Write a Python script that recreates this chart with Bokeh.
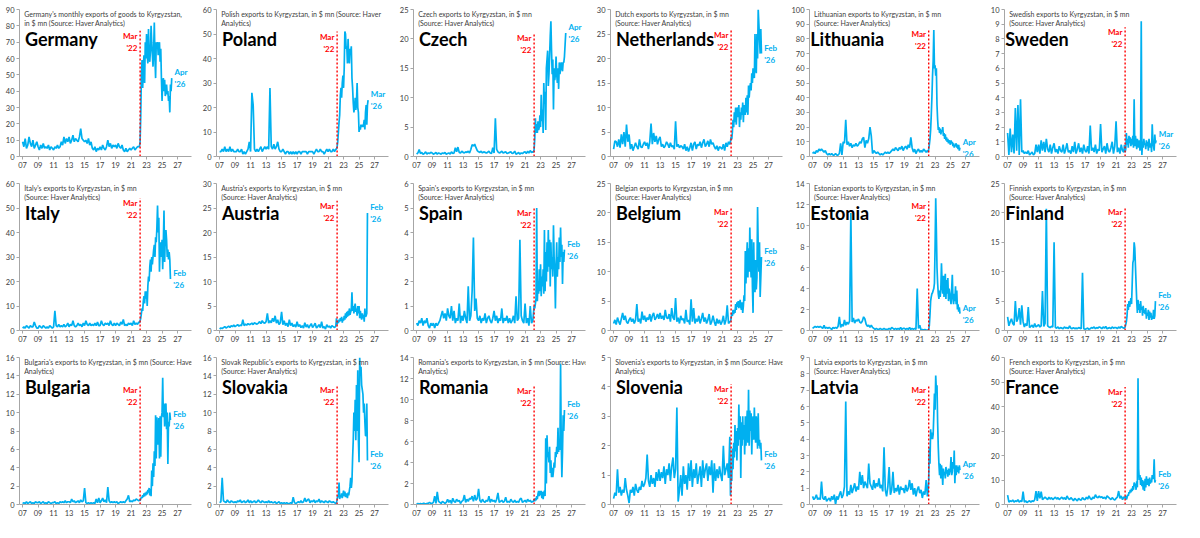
from bokeh.plotting import figure
from bokeh.layouts import gridplot
from bokeh.models import FixedTicker, Label, Range1d
from bokeh.embed import file_html
from bokeh.resources import INLINE

# ---------------- data ----------------
# *_PRE: every 2 months from Jan 2007 to Jan 2022; *_POST: monthly from Feb 2022
COUNTRIES = ["Germany", "Poland", "Czech", "Netherlands", "Lithuania", "Sweden",
             "Italy", "Austria", "Spain", "Belgium", "Estonia", "Finland",
             "Bulgaria", "Slovakia", "Romania", "Slovenia", "Latvia", "France"]

TITLES = [
    "Germany's monthly exports of goods to Kyrgyzstan,\nin $ mn (Source: Haver Analytics)",
    "Polish exports to Kyrgyzstan, in $ mn (Source: Haver\nAnalytics)",
    "Czech exports to Kyrgyzstan, in $ mn\n(Source: Haver Analytics)",
    "Dutch exports to Kyrgyzstan, in $ mn\n(Source: Haver Analytics)",
    "Lithuanian exports to Kyrgyzstan, in $ mn\n(Source: Haver Analytics)",
    "Swedish exports to Kyrgyzstan, in $ mn\n(Source: Haver Analytics)",
    "Italy's exports to Kyrgyzstan, in $ mn\n(Source: Haver Analytics)",
    "Austria's exports to Kyrgyzstan, in $ mn\n(Source: Haver Analytics)",
    "Spain's exports to Kyrgyzstan, in $ mn\n(Source: Haver Analytics)",
    "Belgian exports to Kyrgyzstan, in $ mn\n(Source: Haver Analytics)",
    "Estonian exports to Kyrgyzstan, in $ mn\n(Source: Haver Analytics)",
    "Finnish exports to Kyrgyzstan, in $ mn\n(Source: Haver Analytics)",
    "Bulgaria's exports to Kyrgyzstan, in $ mn (Source: Haver\nAnalytics)",
    "Slovak Republic's exports to Kyrgyzstan, in $ mn\n(Source: Haver Analytics)",
    "Romania's exports to Kyrgyzstan, in $ mn (Source: Haver\nAnalytics)",
    "Slovenia's exports to Kyrgyzstan, in $ mn (Source: Haver\nAnalytics)",
    "Latvia exports to Kyrgyzstan, in $ mn\n(Source: Haver Analytics)",
    "French exports to Kyrgyzstan, in $ mn\n(Source: Haver Analytics)",
]

Y_MAX = [90, 60, 25, 30, 100, 10, 60, 30, 6, 25, 14, 25, 16, 16, 14, 5, 9, 60]
Y_STEP = [10, 10, 5, 5, 10, 1, 10, 5, 1, 5, 2, 5, 2, 2, 2, 1, 1, 10]
END_LABELS = ["Apr\n'26", "Mar\n'26", "Apr\n'26", "Feb\n'26", "Apr\n'26", "Mar\n'26",
              "Feb\n'26", "Feb\n'26", "Feb\n'26", "Feb\n'26", "Apr\n'26", "Feb\n'26",
              "Feb\n'26", "Feb\n'26", "Feb\n'26", "Feb\n'26", "Apr\n'26", "Feb\n'26"]
MARKER_TOP = [77, 51, 21, 25.8, 87, 8.8, 54, 26.5, 5.0, 21, 12.3, 21, 13, 13, 11.3, 4.1, 7.3, 48]
X_TICKS = list(range(2007, 2028, 2))
X_TICK_LABELS = ["07", "09", "11", "13", "15", "17", "19", "21", "23", "25", "27"]
MARKER_LABEL = "Mar\n'22"

GERMANY_PRE = [9, 6, 11, 5, 7, 12, 8, 6, 10, 5, 7, 9, 6, 4, 7, 5, 8, 5, 6, 5, 7, 4, 6, 5,
               4, 6, 5, 7, 5, 6, 9, 7, 12, 8, 11, 9, 12, 8, 10, 13, 9, 11, 10, 9, 12, 17, 11, 10,
               9, 10, 8, 11, 7, 9, 5, 4, 6, 3, 5, 4, 6, 4, 7, 5, 4, 6, 10, 6, 8, 5, 7, 6,
               7, 5, 8, 6, 5, 7, 4, 3, 5, 3, 4, 5, 4, 5, 6, 4, 5, 6, 6]
GERMANY_POST = [6, 9, 25, 50, 59, 42, 55, 62, 45, 70, 60,
                75, 62, 57, 78, 60, 58, 65, 80, 70, 62, 55, 66,
                82, 60, 48, 70, 67, 70, 62, 68, 70, 58, 66, 48,
                34, 45, 48, 40, 47, 37, 42, 44, 38, 40, 34, 37,
                27, 44, 40, 48]

POLAND_PRE = [2, 2, 3, 2, 4, 2, 3, 2, 4, 2, 3, 2, 2, 2, 3, 2, 2, 3, 1, 2, 1, 2, 3, 6,
              2, 26, 21, 3, 2, 3, 2, 3, 4, 2, 3, 4, 3, 4, 3, 28, 4, 3, 5, 3, 4, 6, 3, 2,
              2, 3, 2, 1, 2, 2, 1, 2, 1, 2, 1, 2, 1, 2, 2, 1, 2, 2, 2, 2, 1, 2, 2, 2,
              2, 1, 2, 3, 2, 2, 3, 2, 2, 1, 2, 3, 2, 3, 2, 2, 3, 2, 3]
POLAND_POST = [3, 4, 6, 10, 14, 17, 25, 28, 24, 30, 33,
               28, 36, 51, 50, 44, 45, 38, 48, 40, 38, 44, 42,
               45, 32, 28, 22, 18, 20, 24, 19, 22, 30, 20, 18,
               10, 12, 11, 13, 12, 13, 12, 13, 15, 11, 18, 21,
               13, 21, 23]

CZECH_PRE = [0.4, 0.6, 1.2, 0.5, 0.7, 0.4, 0.5, 0.8, 0.4, 0.6, 0.5, 0.7, 0.6, 0.4, 0.5, 0.7, 0.4, 0.6,
             0.5, 0.4, 0.6, 0.5, 0.7, 0.4, 0.5, 0.6, 0.4, 0.8, 0.5, 0.6, 1.5, 0.8, 1.6, 0.7, 0.6, 0.9,
             0.7, 0.6, 0.8, 0.7, 0.9, 0.6, 1.2, 2.0, 1.8, 2.1, 1.5, 1.0, 0.8, 0.7, 0.9, 0.6, 0.8, 0.7,
             0.6, 0.7, 0.9, 0.6, 0.5, 1.5, 0.6, 6.5, 1.2, 0.8, 0.6, 0.7, 0.9, 0.6, 0.7, 0.8, 0.5, 0.6,
             0.7, 0.8, 0.5, 0.6, 0.9, 0.4, 0.5, 0.7, 0.4, 0.6, 0.5, 0.7, 0.8, 0.5, 0.9, 0.6, 1.0, 0.7, 0.8]
CZECH_POST = [0.7, 1.2, 3, 6.5, 4, 5.5, 4, 6, 4.5, 5, 7,
              5, 10.5, 6, 8, 4, 12.5, 9, 11, 4.5, 15, 16.5, 18,
              12, 14, 17, 20.5, 23, 18, 14, 16.5, 8, 15, 13, 14,
              17, 14, 12.5, 15, 11.5, 16, 14, 15, 16, 15, 14.5, 16,
              16, 17, 19, 21]

NETHERLANDS_PRE = [1.5, 3.2, 3.0, 2.0, 3.5, 1.8, 4.5, 2.5, 5.0, 2.0, 6.5, 3.0, 4.5, 1.5, 2.5, 1.2, 2.0, 2.8,
                   2.0, 1.5, 3.5, 2.0, 1.8, 2.5, 3.0, 2.2, 2.8, 1.5, 3.0, 6.7, 2.5, 4.8, 3.0, 4.2, 2.5, 3.5,
                   4.0, 2.0, 2.5, 1.8, 2.2, 3.0, 2.5, 1.8, 2.8, 2.0, 2.2, 1.5, 7.2, 2.0, 2.5, 1.8, 2.2, 2.0,
                   1.5, 2.5, 1.2, 2.0, 1.0, 1.8, 2.8, 1.2, 2.5, 3.0, 1.5, 2.5, 2.2, 3.0, 1.8, 2.8, 3.5, 2.0,
                   2.5, 3.2, 2.0, 3.5, 2.5, 2.8, 2.0, 1.5, 2.2, 1.2, 2.0, 1.8, 1.5, 2.5, 1.2, 2.8, 2.0, 3.0, 2.5]
NETHERLANDS_POST = [3, 4, 3.5, 5, 7.5, 6, 9, 7, 10, 6.5, 9.5,
                    10, 8, 10.5, 6, 9, 7.5, 10, 8.5, 11, 7, 10.5, 9,
                    8.5, 12, 9, 12.5, 8.5, 14.5, 12, 14, 15, 13.5, 17, 15,
                    18, 17, 16, 25, 19, 17, 25, 20, 30, 27, 24, 21,
                    26, 21]

LITHUANIA_PRE = [2, 3, 2, 4, 3, 5, 4, 5, 4, 3, 4, 2, 1, 2, 1, 2, 1, 1, 2, 1, 1, 2, 9, 1,
                 10, 9, 25, 8, 10, 7, 9, 6, 8, 7, 9, 7, 8, 10, 9, 12, 13, 6, 11, 9, 12, 20, 14, 2,
                 4, 3, 2, 3, 2, 1, 2, 1, 2, 3, 2, 3, 2, 3, 4, 5, 4, 6, 5, 4, 6, 5, 7, 4,
                 6, 7, 5, 8, 6, 13, 6, 3, 5, 2, 4, 5, 3, 4, 3, 5, 4, 3, 4]
LITHUANIA_POST = [3, 5, 8, 12, 18, 28, 40, 55, 65, 86, 60,
                  62, 55, 60, 35, 25, 18, 20, 16, 19, 15, 18, 17,
                  20, 14, 16, 12, 15, 11, 13, 10, 12, 9, 11, 10,
                  8, 11, 9, 10, 7, 9, 6, 8, 7, 9, 6, 8,
                  5, 8, 4, 6]

SWEDEN_PRE = [1.6, 0.1, 1.9, 0.3, 1.5, 0.2, 3.3, 0.4, 3.5, 0.1, 3.9, 0.3, 0.4, 0.2, 0.3, 0.2, 0.4, 0.1,
              0.2, 0.3, 0.1, 0.2, 0.8, 0.3, 0.8, 0.2, 1.1, 0.4, 1.0, 0.3, 1.2, 0.5, 0.3, 0.8, 0.2, 0.6,
              0.9, 0.3, 0.5, 0.2, 0.7, 0.4, 0.3, 0.8, 0.2, 0.5, 0.9, 0.3, 0.4, 0.2, 0.7, 0.3, 1.0, 0.2,
              0.5, 0.9, 0.3, 0.6, 0.2, 0.8, 0.4, 0.3, 0.7, 0.2, 2.1, 0.4, 0.6, 0.3, 0.8, 0.2, 0.5, 0.4,
              2.2, 0.3, 0.5, 0.7, 0.2, 0.9, 0.4, 0.3, 0.6, 1.0, 0.2, 0.7, 2.4, 0.3, 0.6, 0.2, 0.8, 0.4, 0.3]
SWEDEN_POST = [0.8, 0.3, 0.5, 1.6, 0.8, 1.2, 0.6, 1.4, 0.9, 1.3, 0.7,
               1.2, 0.8, 1.4, 0.6, 3.9, 0.7, 1.4, 1.0, 0.5, 1.2, 0.8, 0.6,
               1.1, 0.4, 0.6, 9.2, 0.1, 1.0, 0.6, 1.2, 0.8, 0.9, 0.5, 1.1,
               0.7, 1.0, 0.4, 1.2, 0.8, 0.6, 0.9, 0.3, 2.2, 1.0, 0.7, 0.4,
               1.5, 0.9, 1.1]

ITALY_PRE = [1, 1.5, 1, 2, 1.5, 1, 2, 1.5, 1.5, 3.5, 2, 1, 1, 2, 1.5, 1, 2, 1.5,
             1, 1.5, 1, 2, 1.5, 1, 1.5, 8, 2, 1.5, 2.5, 1.5, 2, 1.5, 2.5, 1.5, 2, 3,
             1.5, 2.5, 2, 4, 2, 1.5, 2, 3, 2, 2.5, 1.5, 3, 2, 4, 2.5, 2, 3, 2,
             2.5, 2, 3, 2, 3.5, 2, 2, 4, 2.5, 2, 3, 2.5, 3, 2, 4, 2.5, 2, 3,
             2, 3, 2.5, 2, 3.5, 2.5, 4.5, 2, 2.5, 2, 3, 2.5, 3, 2, 4, 2.5, 3, 2.5, 3.5]
ITALY_POST = [3, 4, 5, 7, 9, 8, 12, 14, 11, 16, 13,
              16, 10, 18, 22, 20, 26, 29, 24, 30, 27, 30, 33,
              35, 30, 38, 36, 42, 51, 40, 46, 24, 34, 36, 30,
              37, 25, 36, 49, 28, 38, 41, 37, 30, 33, 29, 32,
              29, 21]

AUSTRIA_PRE = [0.3, 0.5, 0.4, 0.6, 0.8, 0.5, 0.7, 0.9, 0.6, 1.0, 0.8, 1.1, 0.8, 1.0, 1.2, 0.9, 1.1, 1.0,
               2.2, 1.0, 1.3, 1.1, 1.4, 1.2, 1.3, 1.5, 1.2, 1.6, 1.4, 1.3, 1.5, 1.8, 1.4, 2.0, 1.6, 1.5,
               1.8, 3.5, 1.5, 2.0, 1.6, 2.5, 1.8, 3.0, 1.5, 2.2, 1.2, 1.6, 3.8, 1.2, 2.0, 1.0, 1.5, 0.8,
               2.2, 1.0, 1.5, 0.8, 1.2, 0.7, 1.8, 0.8, 1.2, 0.6, 1.0, 0.5, 1.6, 0.7, 1.2, 0.5, 1.0, 1.4,
               0.6, 1.0, 1.5, 0.5, 0.8, 1.2, 0.6, 1.8, 0.5, 0.8, 0.3, 1.2, 0.7, 0.9, 0.5, 1.0, 0.8, 0.6, 0.9]
AUSTRIA_POST = [2.5, 1.2, 2.0, 1.5, 2.2, 1.8, 2.5, 2.0, 2.8, 1.6, 2.4,
                2.0, 3.0, 2.2, 3.5, 2.5, 3.8, 2.8, 4.0, 3.0, 4.5, 3.2, 3.8,
                4.2, 7.8, 4.0, 5.0, 3.5, 4.8, 5.5, 3.8, 4.5, 3.0, 5.0, 3.5,
                5.0, 2.5, 4.0, 3.0, 2.2, 3.5, 2.5, 3.2, 1.8, 4.5, 2.8, 3.0,
                3.5, 24]

SPAIN_PRE = [0.3, 0.2, 0.4, 0.3, 0.5, 0.2, 0.4, 0.3, 0.5, 0.2, 0.1, 0.3, 0.2, 0.3, 0.1, 0.3, 0.2, 0.3,
             0.4, 0.6, 0.8, 0.5, 0.7, 0.4, 0.9, 0.6, 0.5, 1.0, 0.4, 0.8, 0.3, 0.5, 0.4, 1.1, 0.3, 0.6,
             0.4, 0.8, 0.5, 0.3, 1.8, 0.4, 0.6, 1.6, 3.8, 0.8, 1.3, 0.5, 0.4, 0.6, 0.3, 0.5, 0.4, 0.7,
             0.3, 0.5, 0.6, 0.4, 0.3, 0.5, 0.8, 0.4, 0.6, 0.3, 0.5, 0.4, 0.9, 0.3, 0.5, 0.4, 0.6, 0.3,
             0.5, 0.3, 0.4, 0.6, 0.3, 1.4, 0.4, 0.5, 3.7, 0.6, 0.4, 0.3, 1.1, 0.3, 0.5, 0.2, 1.0, 0.3, 0.4]
SPAIN_POST = [0.7, 1.0, 0.9, 1.1, 1.3, 5.0, 1.2, 2.0, 1.5, 2.5, 1.6,
              2.7, 1.4, 2.2, 1.8, 2.5, 1.5, 4.1, 1.6, 3.2, 2.0, 3.6, 2.4,
              4.1, 2.6, 3.7, 1.8, 3.6, 2.5, 3.0, 2.2, 4.3, 3.0, 2.4, 0.9,
              2.6, 3.6, 2.2, 3.0, 2.5, 3.8, 2.8, 4.2, 3.0, 3.5, 1.9, 3.2,
              2.8, 3.3]

BELGIUM_PRE = [1.2, 1.8, 1.0, 2.2, 1.5, 1.0, 2.0, 3.0, 1.8, 2.5, 1.5, 1.2, 1.8, 2.2, 1.5, 2.0, 1.2, 1.8,
               4.5, 1.5, 2.0, 1.2, 3.2, 1.8, 2.5, 1.5, 2.2, 1.8, 2.8, 1.5, 2.5, 3.0, 1.8, 2.2, 2.8, 2.0,
               3.0, 2.0, 2.5, 1.8, 3.5, 2.2, 2.0, 2.8, 1.5, 3.8, 2.2, 1.8, 5.5, 1.5, 2.2, 1.2, 2.5, 1.8,
               2.0, 1.2, 3.5, 1.5, 1.8, 1.0, 5.3, 1.5, 3.8, 1.2, 2.0, 1.5, 2.5, 1.2, 2.0, 3.0, 1.5, 2.2,
               1.2, 1.8, 2.8, 1.0, 1.5, 2.5, 1.5, 0.8, 2.0, 1.2, 1.8, 1.0, 1.5, 2.5, 1.0, 1.8, 4.3, 1.2, 1.5]
BELGIUM_POST = [1.5, 2.0, 3.0, 2.5, 3.5, 2.8, 3.5, 3.0, 4.5, 3.5, 4.8,
                4.0, 5.0, 3.8, 4.5, 5.2, 4.0, 3.5, 4.8, 3.0, 4.2, 6.0, 5.0,
                13.5, 8.0, 12.0, 15.0, 9.0, 14.0, 10.0, 17.5, 12.0, 9.0, 15.5, 7.5,
                3.0, 15.0, 8.0, 6.5, 12.0, 7.0, 9.0, 21.0, 14.0, 10.0, 15.0, 5.7,
                9.0, 12.5]

ESTONIA_PRE = [0.2, 0.3, 0.4, 0.3, 0.4, 0.3, 0.4, 0.3, 0.2, 0.5, 0.2, 0.3, 0.2, 0.3, 0.2, 0.1, 0.3, 0.2,
               0.3, 0.2, 0.4, 1.3, 0.3, 0.6, 0.4, 1.0, 0.5, 0.8, 0.6, 0.9, 11.2, 0.8, 1.2, 0.7, 1.0, 0.9,
               1.1, 0.8, 0.7, 0.9, 1.3, 1.1, 0.6, 0.4, 0.5, 0.3, 0.5, 0.3, 0.2, 0.1, 0.2, 0.1, 0.1, 0.2,
               0.1, 0.1, 0.2, 0.1, 0.1, 0.1, 0.2, 0.1, 0.3, 0.2, 0.1, 0.2, 0.1, 0.2, 0.1, 0.3, 0.1, 0.2,
               0.2, 0.1, 0.2, 0.1, 0.3, 0.1, 0.2, 0.1, 0.2, 0.1, 4.0, 0.2, 0.5, 0.05, 0.1, 0.05, 0.1, 0.05, 0.05]
ESTONIA_POST = [0.05, 0.1, 0.5, 1.5, 2.8, 3.2, 3.5, 3.6, 3.8, 4.0, 4.5,
                8.0, 12.6, 9.5, 6.0, 4.5, 3.5, 3.0, 3.8, 3.2, 4.0, 6.4, 4.5,
                3.5, 5.2, 3.2, 4.5, 5.4, 3.0, 4.8, 3.5, 5.0, 2.8, 4.0, 3.5,
                3.0, 2.5, 4.0, 5.3, 3.0, 2.5, 3.5, 2.8, 4.2, 2.5, 3.8, 2.0,
                2.5, 1.8, 2.2, 1.6]

FINLAND_PRE = [2.3, 0.8, 1.5, 2.0, 1.2, 0.9, 5.0, 1.5, 2.0, 3.8, 1.0, 4.3, 1.5, 0.6, 1.2, 0.8, 4.0, 0.5,
               0.7, 0.9, 0.5, 1.2, 0.6, 0.8, 1.0, 0.6, 0.8, 6.7, 0.7, 1.2, 20.7, 0.8, 0.6, 0.5, 0.7, 0.6,
               15.0, 0.5, 0.4, 0.6, 0.3, 0.5, 0.4, 0.3, 0.6, 0.4, 0.5, 0.3, 0.8, 0.4, 0.3, 0.5, 0.3, 0.4,
               0.3, 0.5, 0.4, 0.3, 9.8, 0.3, 0.2, 0.3, 0.4, 0.2, 0.3, 0.5, 0.4, 0.6, 0.3, 0.5, 0.4, 0.6,
               0.5, 0.3, 0.6, 0.4, 0.7, 0.3, 0.4, 0.5, 0.3, 0.6, 0.4, 0.5, 0.5, 0.3, 0.6, 0.4, 0.7, 0.5, 0.4]
FINLAND_POST = [0.4, 0.6, 1.0, 1.5, 2.5, 4.5, 3.5, 5.0, 4.0, 4.8, 5.5,
                4.5, 8.0, 11.5, 12.0, 15.0, 14.0, 11.0, 8.0, 5.0, 3.0, 5.2, 3.5,
                4.5, 3.0, 5.0, 3.5, 4.0, 2.5, 4.2, 3.0, 3.5, 2.8, 3.8, 2.0,
                3.0, 2.5, 3.5, 1.8, 3.2, 2.2, 3.0, 1.8, 2.5, 2.0, 3.5, 2.0,
                2.5, 5.0]

BULGARIA_PRE = [0.1, 0.2, 0.1, 0.3, 0.1, 0.2, 0.3, 0.1, 0.2, 0.1, 0.3, 0.2, 0.2, 0.3, 0.1, 0.2, 0.3, 0.1,
                0.2, 0.1, 0.3, 0.2, 0.1, 0.2, 0.2, 0.3, 0.1, 0.2, 0.1, 0.3, 0.2, 0.3, 0.2, 0.4, 0.2, 0.3,
                0.3, 0.2, 0.6, 0.3, 0.4, 0.2, 0.3, 0.4, 0.2, 0.5, 0.3, 0.4, 1.8, 0.2, 0.1, 0.2, 0.1, 0.2,
                0.1, 0.2, 0.1, 0.6, 0.2, 0.7, 0.2, 0.4, 0.7, 0.3, 0.5, 0.2, 1.9, 0.4, 0.2, 0.3, 0.2, 0.3,
                0.2, 0.3, 0.1, 0.2, 0.3, 0.2, 0.3, 0.2, 0.4, 0.6, 1.0, 0.3, 0.4, 0.3, 0.5, 0.4, 0.6, 0.5, 0.4]
BULGARIA_POST = [0.5, 0.4, 0.6, 0.8, 0.7, 1.0, 0.8, 1.2, 0.9, 1.3, 1.0,
                 1.4, 1.1, 1.6, 1.3, 1.8, 1.0, 1.7, 0.9, 3.7, 2.0, 4.5, 3.0,
                 5.8, 4.2, 9.7, 5.0, 9.5, 6.5, 8.0, 9.4, 5.0, 9.6, 5.2, 9.5,
                 10.0, 13.8, 9.5, 11.0, 8.5, 10.5, 11.0, 8.2, 10.0, 4.4, 9.0, 8.5,
                 10.0, 9.2]

SLOVAKIA_PRE = [0.2, 0.3, 2.9, 0.4, 0.3, 0.2, 0.5, 0.3, 0.2, 0.4, 0.3, 0.2, 0.3, 0.2, 0.4, 0.3, 0.5, 0.2,
                0.3, 0.4, 0.2, 0.3, 0.5, 0.2, 0.4, 0.2, 0.3, 0.4, 0.2, 0.3, 0.5, 0.3, 0.2, 0.4, 0.3, 0.2,
                0.3, 0.2, 0.4, 0.2, 0.3, 0.2, 0.2, 0.3, 0.1, 0.2, 0.3, 0.1, 0.2, 0.1, 0.2, 0.1, 0.2, 0.1,
                0.1, 0.2, 0.1, 0.8, 0.2, 0.1, 0.2, 0.3, 0.2, 0.4, 0.2, 0.3, 0.7, 0.3, 0.5, 0.6, 0.2, 0.4,
                0.3, 0.5, 0.2, 0.4, 0.3, 0.6, 0.2, 0.4, 0.3, 0.2, 0.4, 0.3, 0.2, 0.4, 0.3, 0.2, 0.3, 0.2, 0.1]
SLOVAKIA_POST = [0.2, 0.5, 1.0, 0.8, 2.4, 0.6, 1.0, 0.8, 1.2, 0.7, 1.1,
                 1.5, 0.9, 1.4, 0.8, 1.2, 1.0, 0.7, 1.3, 1.0, 1.5, 2.0, 2.9,
                 1.8, 2.5, 5.0, 7.0, 10.0, 8.0, 11.4, 7.0, 13.0, 8.0, 14.6, 7.0,
                 4.6, 16.0, 14.0, 15.0, 13.0, 12.5, 12.0, 10.0, 11.0, 9.0, 7.5, 7.5,
                 11.0, 4.8]

ROMANIA_PRE = [0.05, 0.1, 0.05, 0.1, 0.05, 0.1, 0.1, 0.05, 0.1, 0.1, 0.2, 0.1, 0.1, 0.2, 0.8, 0.1, 1.2, 0.3,
               0.2, 0.1, 0.3, 0.2, 0.1, 0.2, 0.5, 0.2, 0.4, 0.1, 0.6, 0.3, 0.2, 0.5, 0.3, 0.4, 0.1, 0.3,
               0.4, 0.9, 0.2, 0.5, 0.3, 0.6, 0.5, 0.8, 0.3, 0.9, 0.4, 0.6, 1.5, 0.4, 0.2, 0.5, 0.3, 0.2,
               0.4, 0.3, 0.8, 0.2, 0.5, 0.3, 0.4, 0.2, 0.5, 1.1, 0.2, 0.3, 0.4, 0.2, 0.3, 0.7, 0.2, 0.3,
               0.2, 0.5, 0.3, 0.2, 0.4, 0.2, 0.3, 0.2, 0.5, 0.6, 0.2, 0.3, 0.4, 0.2, 0.5, 0.3, 0.4, 0.2, 0.3]
ROMANIA_POST = [0.3, 0.5, 0.3, 0.6, 0.4, 0.8, 0.5, 1.0, 1.3, 0.8, 1.3,
                0.9, 1.3, 0.6, 1.2, 0.5, 1.1, 1.3, 0.8, 6.3, 2.0, 6.6, 4.5,
                5.0, 4.0, 5.5, 3.0, 4.2, 2.6, 3.5, 2.6, 3.2, 4.0, 3.5, 5.0,
                4.5, 5.5, 4.8, 7.3, 5.0, 6.0, 5.2, 13.4, 6.0, 2.6, 5.0, 8.5,
                7.0, 9.0]

SLOVENIA_PRE = [0.2, 0.4, 0.3, 1.2, 0.4, 0.6, 0.3, 0.5, 0.4, 0.9, 0.5, 0.3, 0.05, 0.5, 0.4, 0.6, 0.3, 0.7,
                0.5, 0.4, 0.6, 0.5, 0.8, 0.6, 0.7, 0.9, 1.7, 0.8, 0.6, 1.0, 0.7, 0.9, 0.6, 1.1, 0.8, 1.2,
                0.8, 1.1, 0.9, 1.3, 0.7, 1.2, 1.0, 1.4, 0.8, 1.3, 1.6, 0.9, 1.2, 3.3, 0.1, 0.5, 1.0, 0.3,
                1.3, 0.7, 1.0, 0.5, 1.4, 0.8, 1.5, 0.6, 1.2, 0.9, 1.4, 0.7, 1.0, 1.3, 0.6, 1.5, 0.9, 1.2,
                1.4, 0.8, 1.3, 1.0, 1.5, 0.4, 1.4, 0.8, 1.2, 0.9, 1.3, 1.0, 0.8, 2.0, 1.0, 1.2, 1.4, 0.9, 2.3]
SLOVENIA_POST = [0.3, 1.0, 0.8, 1.9, 1.2, 2.1, 1.6, 2.7, 1.8, 2.5, 1.5,
                 2.6, 2.0, 3.4, 2.2, 3.0, 0.9, 2.8, 2.0, 3.0, 2.2, 2.7, 1.7,
                 3.0, 2.0, 2.6, 3.2, 2.1, 3.9, 2.0, 3.2, 2.5, 3.1, 1.7, 2.8,
                 3.0, 2.2, 3.3, 2.5, 2.1, 3.0, 2.6, 1.9, 3.1, 2.0, 2.2, 1.9,
                 2.1, 1.5]

LATVIA_PRE = [0.5, 0.3, 0.4, 0.6, 0.3, 0.4, 0.3, 1.4, 0.4, 0.3, 0.5, 0.2, 0.3, 0.4, 0.2, 0.5, 0.3, 0.6,
              0.0, 0.5, 0.3, 0.6, 0.8, 0.4, 0.6, 1.1, 6.3, 0.5, 0.8, 0.6, 1.2, 0.7, 1.0, 1.3, 0.8, 1.1,
              0.9, 2.0, 1.2, 1.8, 1.0, 1.4, 1.2, 1.0, 2.5, 1.3, 1.1, 0.9, 1.5, 1.0, 1.3, 1.1, 1.6, 1.0,
              1.2, 0.8, 3.5, 0.9, 0.5, 1.1, 2.3, 0.6, 0.9, 2.0, 0.7, 1.0, 0.8, 1.2, 0.6, 1.1, 0.9, 1.0,
              0.7, 1.2, 0.8, 1.0, 1.5, 0.9, 1.3, 0.6, 1.0, 0.5, 0.9, 1.1, 0.7, 0.9, 0.4, 0.8, 0.6, 1.5, 0.5]
LATVIA_POST = [0.8, 1.5, 3.5, 2.5, 4.6, 4.0, 4.4, 4.0, 4.3, 5.5, 6.8,
               5.8, 7.9, 7.0, 7.3, 5.0, 3.5, 2.5, 1.8, 2.5, 1.6, 2.4, 2.0,
               1.2, 2.2, 1.8, 2.0, 1.6, 2.3, 1.9, 2.1, 1.7, 2.2, 1.8, 2.0,
               2.2, 2.9, 1.8, 2.0, 2.6, 2.2, 3.3, 1.3, 2.4, 1.8, 2.4, 2.0,
               2.3, 1.9, 2.4, 2.1]

FRANCE_PRE = [3.8, 1.0, 1.5, 1.2, 1.8, 1.0, 1.5, 1.2, 2.0, 1.0, 1.5, 1.2, 5.3, 1.0, 1.5, 0.8, 1.2, 1.5,
              1.0, 1.5, 1.2, 2.0, 5.5, 1.5, 5.5, 2.5, 5.2, 2.0, 2.5, 3.0, 2.5, 2.0, 3.0, 2.2, 2.8, 2.0,
              2.5, 3.0, 2.2, 2.8, 2.0, 2.5, 3.0, 2.2, 2.8, 2.0, 3.5, 2.5, 2.0, 2.8, 2.2, 1.5, 2.5, 2.0,
              1.5, 2.5, 2.0, 1.8, 2.8, 2.2, 2.0, 3.0, 2.2, 3.5, 2.5, 2.0, 3.0, 2.5, 4.0, 3.0, 2.8, 3.5,
              2.8, 3.2, 2.5, 3.0, 2.2, 3.5, 3.0, 2.5, 2.0, 2.8, 2.2, 1.8, 2.5, 3.0, 5.5, 2.5, 3.5, 2.0, 3.0]
FRANCE_POST = [3.0, 2.5, 3.5, 2.0, 2.8, 4.0, 3.5, 5.0, 4.5, 6.0, 5.0,
               6.5, 5.5, 7.5, 6.0, 9.0, 7.5, 8.5, 6.0, 9.5, 7.0, 51.5, 14.5,
               10.0, 12.0, 8.0, 11.0, 7.5, 10.0, 6.0, 9.5, 5.5, 10.5, 7.0, 11.5,
               8.0, 9.0, 10.5, 7.5, 11.0, 8.5, 10.0, 9.0, 12.0, 10.5, 11.0, 18.5,
               9.0, 10.0]

PRE = [GERMANY_PRE, POLAND_PRE, CZECH_PRE, NETHERLANDS_PRE, LITHUANIA_PRE, SWEDEN_PRE,
       ITALY_PRE, AUSTRIA_PRE, SPAIN_PRE, BELGIUM_PRE, ESTONIA_PRE, FINLAND_PRE,
       BULGARIA_PRE, SLOVAKIA_PRE, ROMANIA_PRE, SLOVENIA_PRE, LATVIA_PRE, FRANCE_PRE]
POST = [GERMANY_POST, POLAND_POST, CZECH_POST, NETHERLANDS_POST, LITHUANIA_POST, SWEDEN_POST,
        ITALY_POST, AUSTRIA_POST, SPAIN_POST, BELGIUM_POST, ESTONIA_POST, FINLAND_POST,
        BULGARIA_POST, SLOVAKIA_POST, ROMANIA_POST, SLOVENIA_POST, LATVIA_POST, FRANCE_POST]

# ---------------- style ----------------
BLUE = "#00B0F0"
RED = "#FF0000"
AXIS_GREY = "#a6a6a6"
TEXT_GREY = "#404040"
FONT = "Lato"
MAR22 = 2022 + 2 / 12.0
W, H = 197, 174
NAME_X = [2007.3, 2007.3, 2007.3, 2007.3, 2006.7, 2006.7] * 3


def make_panel(i):
    pre, post = PRE[i], POST[i]
    xs = [2007 + k * 2 / 12.0 for k in range(len(pre))] + \
         [2022 + (k + 1) / 12.0 for k in range(len(post))]
    ys = list(pre) + list(post)
    ymax = Y_MAX[i]

    p = figure(width=W, height=H, output_backend="svg", toolbar_location=None,
               x_range=Range1d(2006.6, 2028.8), y_range=Range1d(0, ymax),
               min_border_left=19, min_border_right=6, min_border_top=9, min_border_bottom=18)
    p.outline_line_color = None
    p.grid.visible = False
    p.background_fill_color = "white"
    p.border_fill_color = "white"

    p.xaxis.ticker = FixedTicker(ticks=X_TICKS)
    p.xaxis.major_label_overrides = {t: lab for t, lab in zip(X_TICKS, X_TICK_LABELS)}
    step = Y_STEP[i]
    yt = []
    v = 0
    while v <= ymax + 1e-9:
        yt.append(v)
        v += step
    p.yaxis.ticker = FixedTicker(ticks=yt)
    for ax in (p.xaxis[0], p.yaxis[0]):
        ax.axis_line_color = AXIS_GREY
        ax.major_tick_line_color = AXIS_GREY
        ax.minor_tick_line_color = None
        ax.major_tick_out = 3
        ax.major_tick_in = 0
        ax.major_label_text_font_size = "7.5px"
        ax.major_label_text_color = TEXT_GREY
        ax.major_label_text_font = FONT
        ax.major_label_standoff = 2

    p.line(xs, ys, line_color=BLUE, line_width=1.7)

    top = MARKER_TOP[i]
    p.segment(x0=[MAR22], y0=[0], x1=[MAR22], y1=[top],
              line_color=RED, line_dash="2 2", line_width=1.4)
    p.add_layout(Label(x=MAR22 - 0.35, y=top, text=MARKER_LABEL, text_align="right",
                       text_baseline="top", text_font=FONT, text_font_style="bold",
                       text_font_size="8px", text_color=RED))

    p.add_layout(Label(x=xs[-1] + 0.35, y=ys[-1], text=END_LABELS[i], text_align="left",
                       text_baseline="middle", text_font=FONT, text_font_style="bold",
                       text_font_size="8px", text_color=BLUE))

    p.add_layout(Label(x=2007.2, y=ymax, text=TITLES[i], text_align="left",
                       text_baseline="top", text_font=FONT, text_font_size="7px",
                       text_color=TEXT_GREY))
    p.add_layout(Label(x=NAME_X[i], y=ymax * 0.8, text=COUNTRIES[i], text_align="left",
                       text_baseline="middle", text_font=FONT, text_font_style="bold",
                       text_font_size="18px", text_color="black"))
    return p


figs = [make_panel(i) for i in range(len(COUNTRIES))]
grid = gridplot(figs, ncols=6, toolbar_location=None)

open("out.html", "w").write(file_html(grid, INLINE))
